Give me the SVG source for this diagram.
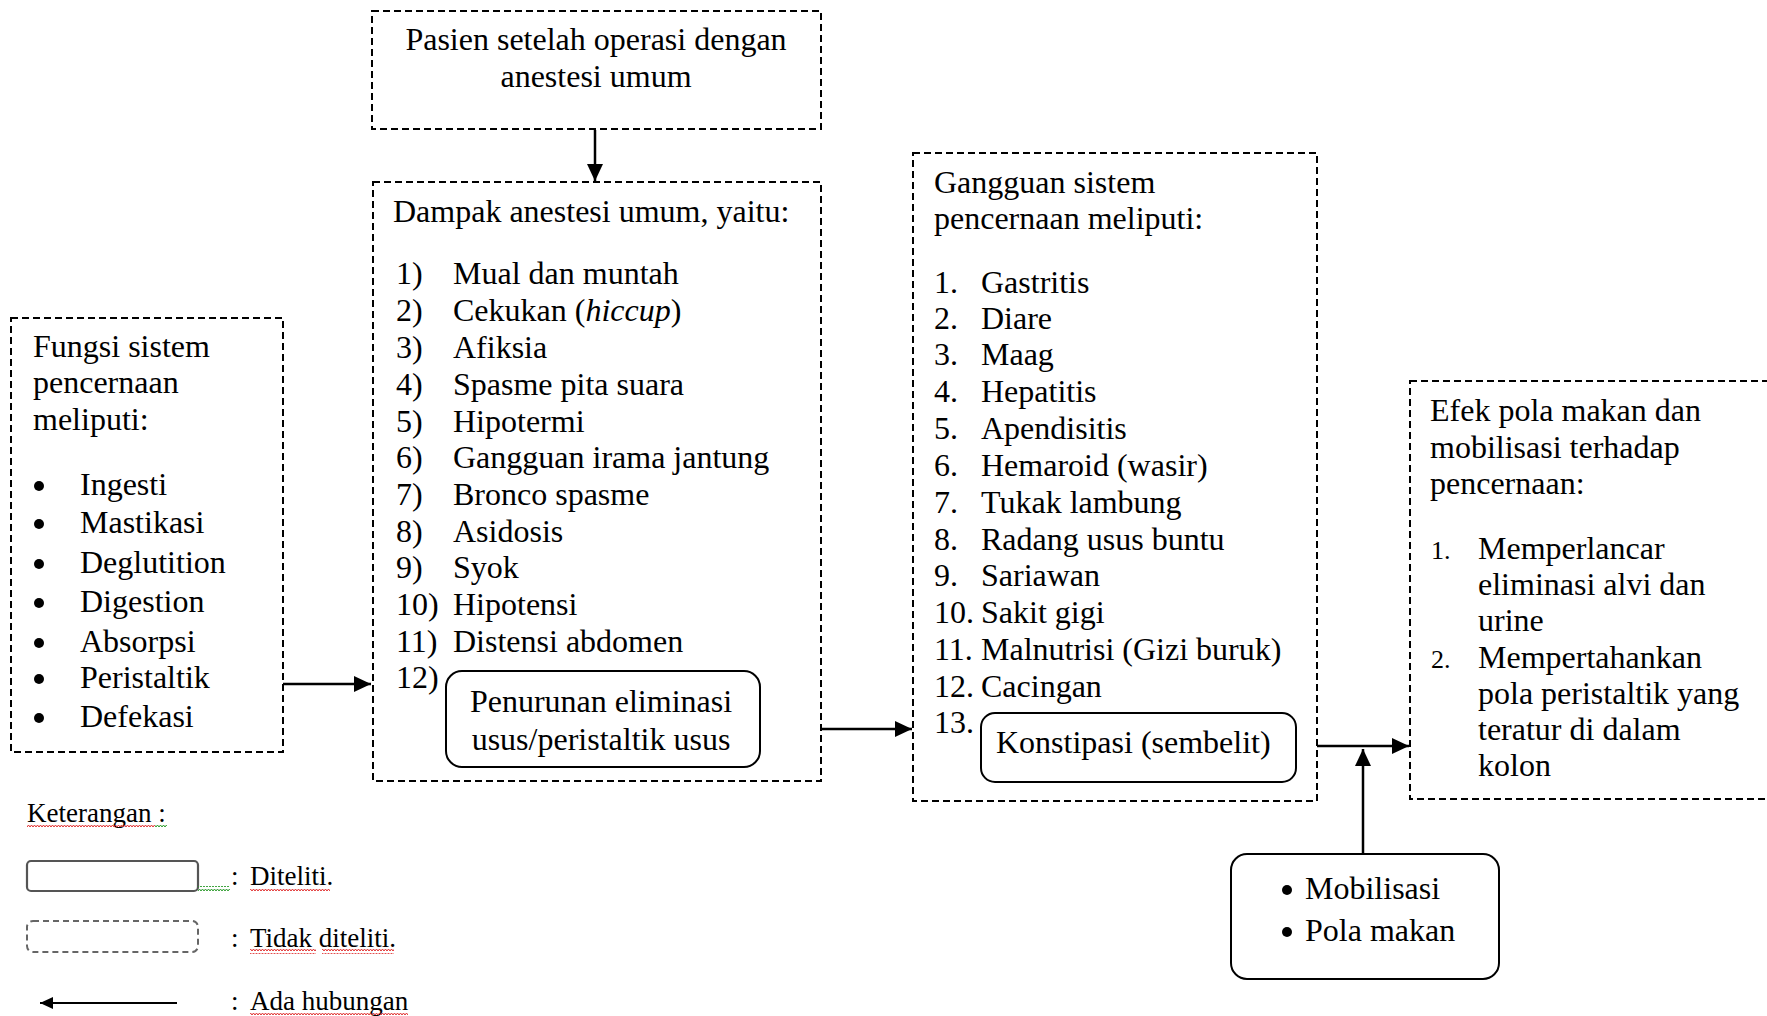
<svg xmlns="http://www.w3.org/2000/svg" width="1767" height="1016" viewBox="0 0 1767 1016">
<style>
text{font-family:"Liberation Serif","Times New Roman",serif;fill:#000}
.t{font-size:32px}
.s{font-size:26px}
.lg{font-size:27px}
.dash{fill:none;stroke:#000;stroke-width:2;stroke-dasharray:7 4}
.solid{fill:none;stroke:#000;stroke-width:2}
.conn{fill:none;stroke:#000;stroke-width:2.5}
</style>
<defs>
<marker id="ah" markerUnits="userSpaceOnUse" markerWidth="18" markerHeight="16" refX="17" refY="8" orient="auto">
<path d="M0,0 L17,8 L0,16 z" fill="#000"/>
</marker>
<marker id="ahs" markerUnits="userSpaceOnUse" markerWidth="14" markerHeight="12" refX="13" refY="6" orient="auto">
<path d="M0,0 L13,6 L0,12 z" fill="#000"/>
</marker>
<pattern id="wr" width="6" height="4" patternUnits="userSpaceOnUse">
<path d="M0,3 L1.5,1 L3,3 L4.5,1 L6,3" fill="none" stroke="#e03030" stroke-width="1"/>
</pattern>
<pattern id="wg" width="6" height="4" patternUnits="userSpaceOnUse">
<path d="M0,3 L1.5,1 L3,3 L4.5,1 L6,3" fill="none" stroke="#2a9a2a" stroke-width="1"/>
</pattern>
</defs>
<rect width="1767" height="1016" fill="#fff"/>

<g id="connectors">
<line class="conn" x1="595" y1="130" x2="595" y2="181" marker-end="url(#ah)"/>
<line class="conn" x1="283" y1="684" x2="371" y2="684" marker-end="url(#ah)"/>
<line class="conn" x1="821" y1="729" x2="912" y2="729" marker-end="url(#ah)"/>
<line class="conn" x1="1317" y1="746" x2="1409" y2="746" marker-end="url(#ah)"/>
<line class="conn" x1="1363" y1="854" x2="1363" y2="749" marker-end="url(#ah)"/>
</g>

<g id="node-pasien">
<rect class="dash" x="372" y="11" width="449" height="118"/>
<text class="t" x="596" y="50" text-anchor="middle">Pasien setelah operasi dengan</text>
<text class="t" x="596" y="87" text-anchor="middle">anestesi umum</text>
</g>

<g id="node-fungsi">
<rect class="dash" x="11" y="318" width="272" height="434"/>
<text class="t" x="33" y="357">Fungsi sistem</text>
<text class="t" x="33" y="393">pencernaan</text>
<text class="t" x="33" y="430">meliputi:</text>
<circle cx="39" cy="486" r="5"/><text class="t" x="80" y="495">Ingesti</text>
<circle cx="39" cy="524" r="5"/><text class="t" x="80" y="533">Mastikasi</text>
<circle cx="39" cy="564" r="5"/><text class="t" x="80" y="573">Deglutition</text>
<circle cx="39" cy="603" r="5"/><text class="t" x="80" y="612">Digestion</text>
<circle cx="39" cy="643" r="5"/><text class="t" x="80" y="652">Absorpsi</text>
<circle cx="39" cy="679" r="5"/><text class="t" x="80" y="688">Peristaltik</text>
<circle cx="39" cy="718" r="5"/><text class="t" x="80" y="727">Defekasi</text>
</g>

<g id="node-dampak">
<rect class="dash" x="373" y="182" width="448" height="599"/>
<text class="t" x="393" y="222">Dampak anestesi umum, yaitu:</text>
<text class="t" x="396" y="284">1)</text><text class="t" x="453" y="284">Mual dan muntah</text>
<text class="t" x="396" y="321">2)</text><text class="t" x="453" y="321">Cekukan (<tspan font-style="italic">hiccup</tspan>)</text>
<text class="t" x="396" y="358">3)</text><text class="t" x="453" y="358">Afiksia</text>
<text class="t" x="396" y="395">4)</text><text class="t" x="453" y="395">Spasme pita suara</text>
<text class="t" x="396" y="432">5)</text><text class="t" x="453" y="432">Hipotermi</text>
<text class="t" x="396" y="468">6)</text><text class="t" x="453" y="468">Gangguan irama jantung</text>
<text class="t" x="396" y="505">7)</text><text class="t" x="453" y="505">Bronco spasme</text>
<text class="t" x="396" y="542">8)</text><text class="t" x="453" y="542">Asidosis</text>
<text class="t" x="396" y="578">9)</text><text class="t" x="453" y="578">Syok</text>
<text class="t" x="396" y="615">10)</text><text class="t" x="453" y="615">Hipotensi</text>
<text class="t" x="396" y="652">11)</text><text class="t" x="453" y="652">Distensi abdomen</text>
<text class="t" x="396" y="688">12)</text>
</g>

<g id="node-penurunan">
<rect class="solid" x="446" y="671" width="314" height="96" rx="16"/>
<text class="t" x="601" y="712" text-anchor="middle">Penurunan eliminasi</text>
<text class="t" x="601" y="750" text-anchor="middle">usus/peristaltik usus</text>
</g>

<g id="node-gangguan">
<rect class="dash" x="913" y="153" width="404" height="648"/>
<text class="t" x="934" y="193">Gangguan sistem</text>
<text class="t" x="934" y="229">pencernaan meliputi:</text>
<text class="t" x="934" y="293">1.</text><text class="t" x="981" y="293">Gastritis</text>
<text class="t" x="934" y="329">2.</text><text class="t" x="981" y="329">Diare</text>
<text class="t" x="934" y="365">3.</text><text class="t" x="981" y="365">Maag</text>
<text class="t" x="934" y="402">4.</text><text class="t" x="981" y="402">Hepatitis</text>
<text class="t" x="934" y="439">5.</text><text class="t" x="981" y="439">Apendisitis</text>
<text class="t" x="934" y="476">6.</text><text class="t" x="981" y="476">Hemaroid (wasir)</text>
<text class="t" x="934" y="513">7.</text><text class="t" x="981" y="513">Tukak lambung</text>
<text class="t" x="934" y="550">8.</text><text class="t" x="981" y="550">Radang usus buntu</text>
<text class="t" x="934" y="586">9.</text><text class="t" x="981" y="586">Sariawan</text>
<text class="t" x="934" y="623">10.</text><text class="t" x="981" y="623">Sakit gigi</text>
<text class="t" x="934" y="660">11.</text><text class="t" x="981" y="660">Malnutrisi (Gizi buruk)</text>
<text class="t" x="934" y="697">12.</text><text class="t" x="981" y="697">Cacingan</text>
<text class="t" x="934" y="733">13.</text>
</g>

<g id="node-konstipasi">
<rect class="solid" x="981" y="713" width="315" height="69" rx="14"/>
<text class="t" x="996" y="753">Konstipasi (sembelit)</text>
</g>

<g id="node-efek">
<rect class="dash" x="1410" y="381" width="370" height="418"/>
<text class="t" x="1430" y="421">Efek pola makan dan</text>
<text class="t" x="1430" y="458">mobilisasi terhadap</text>
<text class="t" x="1430" y="494">pencernaan:</text>
<text class="s" x="1431" y="559">1.</text><text class="t" x="1478" y="559">Memperlancar</text>
<text class="t" x="1478" y="595">eliminasi alvi dan</text>
<text class="t" x="1478" y="631">urine</text>
<text class="s" x="1431" y="668">2.</text><text class="t" x="1478" y="668">Mempertahankan</text>
<text class="t" x="1478" y="704">pola peristaltik yang</text>
<text class="t" x="1478" y="740">teratur di dalam</text>
<text class="t" x="1478" y="776">kolon</text>
</g>

<g id="node-mobilisasi">
<rect class="solid" x="1231" y="854" width="268" height="125" rx="16"/>
<circle cx="1287" cy="890" r="5"/>
<text class="t" x="1305" y="899">Mobilisasi</text>
<circle cx="1287" cy="932" r="5"/>
<text class="t" x="1305" y="941">Pola makan</text>
</g>

<g id="legend">
<text class="lg" x="27" y="822">Keterangan :</text>
<rect x="27" y="823" width="128" height="5" fill="url(#wr)"/>
<rect x="155" y="823" width="12" height="5" fill="url(#wg)"/>
<rect x="27" y="861" width="171" height="30" rx="4" fill="none" stroke="#555" stroke-width="2.2"/>
<rect x="198" y="886" width="32" height="5" fill="url(#wg)"/>
<text class="lg" x="231" y="885">:</text>
<text class="lg" x="250" y="885">Diteliti.</text>
<rect x="250" y="887" width="80" height="5" fill="url(#wr)"/>
<rect x="27" y="921" width="171" height="31" rx="6" fill="none" stroke="#666" stroke-width="2" stroke-dasharray="6 4"/>
<text class="lg" x="231" y="947">:</text>
<text class="lg" x="250" y="947">Tidak diteliti.</text>
<rect x="250" y="949" width="66" height="5" fill="url(#wr)"/>
<rect x="322" y="949" width="72" height="5" fill="url(#wr)"/>
<line x1="177" y1="1003" x2="40" y2="1003" stroke="#000" stroke-width="2" marker-end="url(#ahs)"/>
<text class="lg" x="231" y="1010">:</text>
<text class="lg" x="250" y="1010">Ada hubungan</text>
<rect x="250" y="1012" width="158" height="5" fill="url(#wr)"/>
</g>
</svg>
